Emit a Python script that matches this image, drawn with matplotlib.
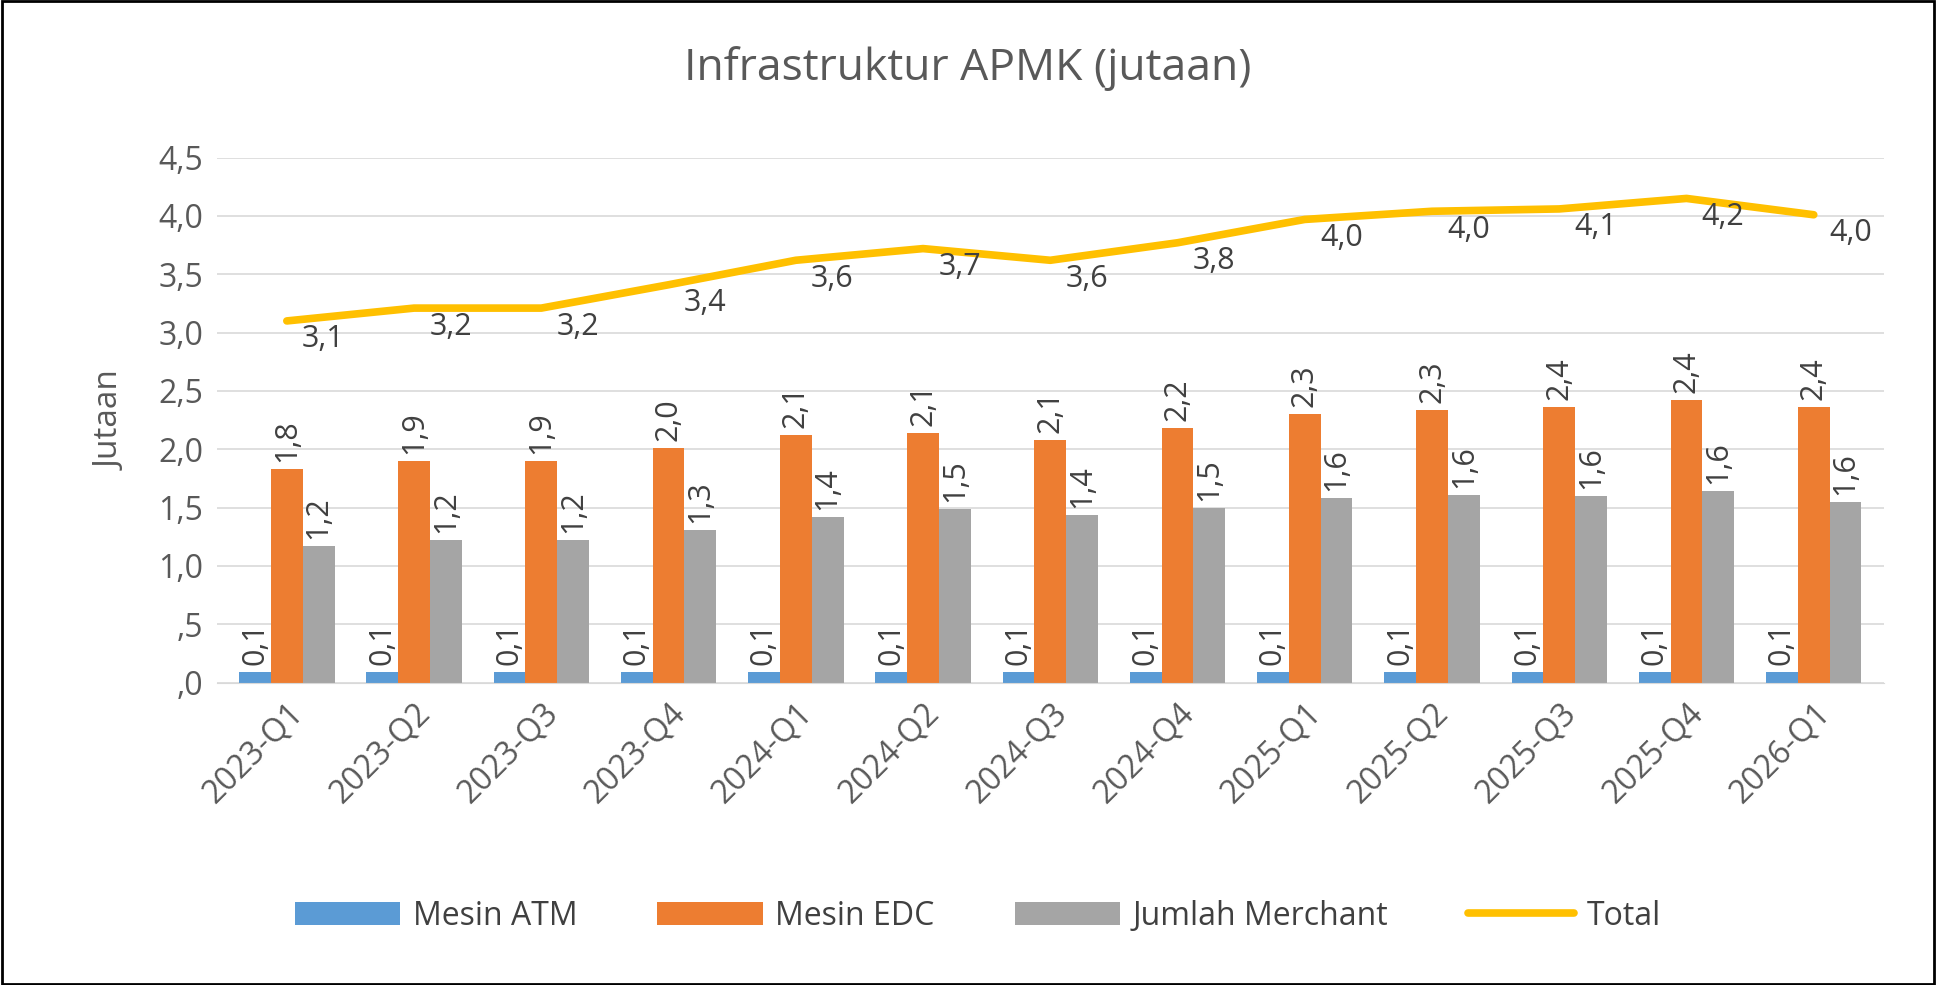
import matplotlib
matplotlib.use("Agg")
import matplotlib.pyplot as plt
import numpy as np

categories = ["2023-Q1","2023-Q2","2023-Q3","2023-Q4","2024-Q1","2024-Q2","2024-Q3","2024-Q4","2025-Q1","2025-Q2","2025-Q3","2025-Q4","2026-Q1"]
atm = [0.09]*13
edc = [1.83,1.90,1.90,2.01,2.12,2.14,2.08,2.18,2.30,2.34,2.36,2.42,2.36]
merchant = [1.17,1.22,1.22,1.31,1.42,1.49,1.44,1.50,1.58,1.61,1.60,1.64,1.55]
total = [3.10,3.21,3.21,3.41,3.62,3.72,3.62,3.77,3.97,4.04,4.06,4.15,4.01]

plt.rcParams['font.family'] = ['Open Sans', 'DejaVu Sans']
tc = '#595959'
fig = plt.figure(figsize=(19.36, 9.85), dpi=100)
ax = fig.add_axes([0.112, 0.307, 0.861, 0.533])
x = np.arange(len(categories))
w = 0.25
cols = ['#5B9BD5', '#ED7D31', '#A5A5A5']
names = ['Mesin ATM', 'Mesin EDC', 'Jumlah Merchant']
handles = []
for i, (vals, c, n) in enumerate(zip([atm, edc, merchant], cols, names)):
    xs = x + (i-1)*w
    handles.append(ax.bar(xs, vals, w, color=c, label=n, zorder=2))
    for xx, v in zip(xs, vals):
        ax.text(xx, v+0.06, f"{v:.1f}".replace('.', ','), rotation=90, ha='center', va='bottom', fontsize=22, color='#404040')
ln, = ax.plot(x, total, color='#FFC000', lw=5.5, label='Total', zorder=3, solid_capstyle='round')
handles.append(ln)
for xx, v in zip(x, total):
    ax.text(xx+0.12, v-0.03, f"{v:.1f}".replace('.', ','), ha='left', va='top', fontsize=22, color='#404040')
ax.set_xlim(-0.55, len(categories)-0.45)
ax.set_ylim(0, 4.5)
yt = np.arange(0, 4.51, 0.5)
ax.set_yticks(yt)
def fmt(v):
    s = f"{v:.1f}".replace('.', ',')
    return s[1:] if s.startswith('0') else s
ax.set_yticklabels([fmt(v) for v in yt], fontsize=23, color=tc)
ax.set_xticks(x)
ax.set_xticklabels(categories, rotation=45, ha='right', rotation_mode='anchor', fontsize=23, color=tc)
ax.grid(axis='y', color='#D9D9D9', lw=1.2, zorder=0)
for s in ['top', 'right', 'left']:
    ax.spines[s].set_visible(False)
ax.spines['bottom'].set_color('#D9D9D9')
ax.tick_params(length=0, pad=10)
ax.set_ylabel('Jutaan', fontsize=24, color=tc, labelpad=22)
fig.text(0.5, 0.93, 'Infrastruktur APMK (jutaan)', ha='center', va='center', fontsize=32, color=tc)
fig.legend(handles=handles, labels=names + ['Total'], loc='center', bbox_to_anchor=(0.505, 0.07), ncol=4,
           frameon=False, fontsize=23, handlelength=3.3, handletextpad=0.4, columnspacing=2.5, labelcolor='#404040')
fig.patches.append(plt.Rectangle((0.001, 0.001), 0.998, 0.998, transform=fig.transFigure, fill=False, ec='black', lw=2))
fig.savefig('out.png', dpi=100)
